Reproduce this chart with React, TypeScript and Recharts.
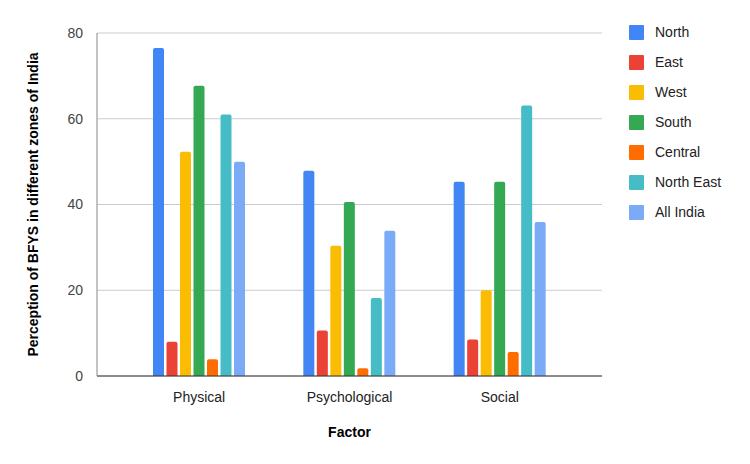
import { BarChart, Bar, XAxis, YAxis, CartesianGrid } from 'recharts';

const factors = ['Physical', 'Psychological', 'Social'];
const zones = ['North', 'East', 'West', 'South', 'Central', 'North East', 'All India'];
const zoneColors = ['#4285F4', '#EA4335', '#FBBC04', '#34A853', '#FF6D01', '#46BDC6', '#7BAAF7'];

const north = [76.5, 47.9, 45.3];
const east = [8.0, 10.6, 8.5];
const west = [52.3, 30.4, 20.0];
const south = [67.7, 40.6, 45.3];
const central = [3.9, 1.8, 5.6];
const northEast = [61.0, 18.2, 63.1];
const allIndia = [50.0, 33.9, 35.9];

const yTicks = [0, 20, 40, 60, 80];

const seriesValues = [north, east, west, south, central, northEast, allIndia];

const data = factors.map((factor, i) => {
  const row: Record<string, string | number> = { factor };
  zones.forEach((z, k) => {
    row[z] = seriesValues[k][i];
  });
  return row;
});

const font = 'Arial, "Liberation Sans", sans-serif';

// legend drawn as plain html next to the chart so it doesn't eat plot space
function ZoneLegend() {
  return (
    <div
      style={{
        position: 'absolute',
        left: 629,
        top: 17,
        fontFamily: font,
        fontSize: 14,
        color: '#222',
      }}
    >
      {zones.map((z, i) => (
        <div key={z} style={{ display: 'flex', alignItems: 'center', height: 30 }}>
          <span
            style={{
              width: 15,
              height: 15,
              background: zoneColors[i],
              borderRadius: 1,
              marginRight: 11,
              display: 'inline-block',
            }}
          />
          <span>{z}</span>
        </div>
      ))}
    </div>
  );
}

export default function App() {
  return (
    <div style={{ position: 'absolute', left: 0, top: 0, width: 750, height: 464, background: '#fff' }}>
      <BarChart
        width={750}
        height={464}
        data={data}
        margin={{ top: 33, right: 148, left: 40, bottom: 58 }}
        barGap={2.5}
        barSize={11}
      >
        <CartesianGrid vertical={false} stroke="#ccc" />
        <XAxis
          dataKey="factor"
          height={30}
          padding={{ left: 27, right: 27 }}
          tickLine={false}
          axisLine={{ stroke: '#333' }}
          tickMargin={10}
          tick={{ fontSize: 14, fill: '#222', fontFamily: font }}
          label={{
            content: ({ viewBox }: any) => (
              <text
                x={viewBox.x + viewBox.width / 2}
                y={437}
                textAnchor="middle"
                fontFamily={font}
                fontSize={14}
                fontWeight="bold"
                fill="#000"
              >
                Factor
              </text>
            ),
          }}
        />
        <YAxis
          width={57}
          domain={[0, 80]}
          ticks={yTicks}
          tickLine={false}
          axisLine={{ stroke: '#888' }}
          tickMargin={8}
          tick={{ fontSize: 14, fill: '#444', fontFamily: font }}
          label={{
            content: ({ viewBox }: any) => (
              <text
                x={38}
                y={viewBox.y + viewBox.height / 2}
                transform={`rotate(-90, 38, ${viewBox.y + viewBox.height / 2})`}
                textAnchor="middle"
                fontFamily={font}
                fontSize={14}
                fontWeight="bold"
                fill="#000"
              >
                Perception of BFYS in different zones of India
              </text>
            ),
          }}
        />
        {zones.map((z, i) => (
          <Bar key={z} dataKey={z} fill={zoneColors[i]} radius={[2, 2, 0, 0]} isAnimationActive={false} />
        ))}
      </BarChart>
      <ZoneLegend />
    </div>
  );
}
